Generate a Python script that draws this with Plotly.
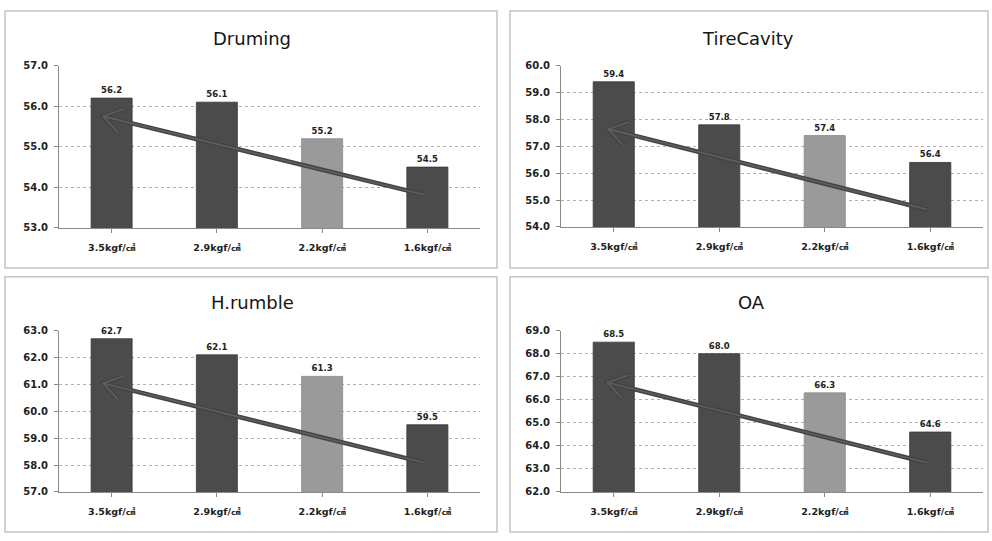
import math
import plotly.graph_objects as go

# Tyre inflation pressure levels (x categories)
pressures = ["3.5kgf/㎠", "2.9kgf/㎠", "2.2kgf/㎠", "1.6kgf/㎠"]

# Measured noise levels per panel
druming = [56.2, 56.1, 55.2, 54.5]
tire_cavity = [59.4, 57.8, 57.4, 56.4]
h_rumble = [62.7, 62.1, 61.3, 59.5]
overall = [68.5, 68.0, 66.3, 64.6]

titles = ["Druming", "TireCavity", "H.rumble", "OA"]
y_ranges = [(53, 57), (54, 60), (57, 63), (62, 69)]

# Trend arrows: tail (low-pressure end) and head (high-pressure end), in data units
arrow_tail_x = [2.97, 2.97, 2.97, 2.97]
arrow_tail_y = [53.82, 54.65, 58.09, 63.27]
arrow_head_x = [-0.08, -0.05, -0.08, -0.06]
arrow_head_y = [55.75, 57.64, 61.04, 66.75]

series = [druming, tire_cavity, h_rumble, overall]

W, H = 992, 541
# plot-area pixel boxes (left, right, top, bottom) and panel frames
plot_px = [(59, 480, 61, 227), (561, 983, 61, 226), (59, 480, 332, 497), (561, 983, 332, 497)]
frame_px = [(5, 497, 5, 268), (510, 988, 5, 268), (5, 497, 277, 538), (510, 988, 277, 538)]
title_px = [(252, 33), (748, 33), (252, 303), (751, 303)]

DARK = "#4b4b4b"
LIGHT = "#9a9a9a"
bar_colors = [DARK, DARK, LIGHT, DARK]
bar_edges = ["#3a3a3a", "#3a3a3a", "#8a8a8a", "#333333"]
FONT = "DejaVu Sans, Noto Sans CJK KR"

fig = go.Figure()
shapes = []
annotations = []

for i in range(4):
    l, r, t, b = plot_px[i]
    ax_suffix = "" if i == 0 else str(i + 1)
    xa, ya = "x" + ax_suffix, "y" + ax_suffix
    lo, hi = y_ranges[i]

    fig.add_trace(go.Bar(
        x=list(range(4)), y=series[i],
        width=0.39,
        marker=dict(color=bar_colors, line=dict(color=bar_edges, width=0.8)),
        text=series[i], texttemplate="%{y:.1f}", textposition="outside",
        textfont=dict(family=FONT, size=8.5, color="#222222", weight="bold"),
        cliponaxis=False, xaxis=xa, yaxis=ya, showlegend=False,
    ))

    # convert between data and pixel units for the arrowhead chevron
    sx = (r - l) / 4.0
    sy = (b - t) / (hi - lo)
    hx, hy = arrow_head_x[i], arrow_head_y[i]
    tx, ty = arrow_tail_x[i], arrow_tail_y[i]
    dxp = (tx - hx) * sx
    dyp = -(ty - hy) * sy
    n = math.hypot(dxp, dyp)
    ux, uy = dxp / n, dyp / n
    arm = 22
    pts = []
    for ang in (math.radians(34), math.radians(-34)):
        rx = ux * math.cos(ang) - uy * math.sin(ang)
        ry = ux * math.sin(ang) + uy * math.cos(ang)
        pts.append((hx + rx * arm / sx, hy - ry * arm / sy))

    # shaft and chevron: dark outline with a slightly lighter core
    cx = [tx, hx, None, pts[0][0], hx, pts[1][0]]
    cy = [ty, hy, None, pts[0][1], hy, pts[1][1]]
    fig.add_trace(go.Scatter(x=cx, y=cy, mode="lines",
                             line=dict(color="#444444", width=4.5),
                             xaxis=xa, yaxis=ya, showlegend=False, hoverinfo="skip"))
    fig.add_trace(go.Scatter(x=cx, y=cy, mode="lines",
                             line=dict(color="#5e5e5e", width=1.6),
                             xaxis=xa, yaxis=ya, showlegend=False, hoverinfo="skip"))

    xdom = [l / W, r / W]
    ydom = [1 - b / H, 1 - t / H]
    key = "xaxis" + ax_suffix
    ykey = "yaxis" + ax_suffix
    fig.layout[key] = dict(
        domain=xdom, range=[-0.5, 3.5], anchor=ya,
        tickmode="array", tickvals=list(range(4)), ticktext=pressures,
        tickson="boundaries", ticks="outside", ticklen=4, tickcolor="#888888",
        showline=True, linecolor="#888888", linewidth=1, showgrid=False,
        tickfont=dict(family=FONT, size=9.5, color="#222222", weight="bold"),
        ticklabelstandoff=7, fixedrange=True,
    )
    fig.layout[ykey] = dict(
        domain=ydom, range=[lo, hi], anchor=xa, dtick=1, tick0=lo,
        tickformat=".1f", ticks="outside", ticklen=4, tickcolor="#888888",
        showline=True, linecolor="#888888", linewidth=1,
        showgrid=True, gridcolor="#b0b0b0", griddash="dot", gridwidth=1,
        zeroline=False,
        tickfont=dict(family=FONT, size=10, color="#222222", weight="bold"),
        ticklabelstandoff=4, fixedrange=True,
    )

    fl, fr, ft, fb = frame_px[i]
    shapes.append(dict(type="rect", xref="paper", yref="paper",
                       x0=fl / W, x1=fr / W, y0=1 - fb / H, y1=1 - ft / H,
                       line=dict(color="#c4c4c4", width=1.5), fillcolor="rgba(0,0,0,0)",
                       layer="below"))
    cxp, cyp = title_px[i]
    annotations.append(dict(text=titles[i], xref="paper", yref="paper",
                            x=cxp / W, y=1 - cyp / H, xanchor="center", yanchor="middle",
                            showarrow=False,
                            font=dict(family=FONT, size=18, color="#151515")))

fig.update_layout(
    width=W, height=H, margin=dict(l=0, r=0, t=0, b=0),
    paper_bgcolor="white", plot_bgcolor="white",
    shapes=shapes, annotations=annotations, bargap=0.6,
)

fig.write_html("out.html")
